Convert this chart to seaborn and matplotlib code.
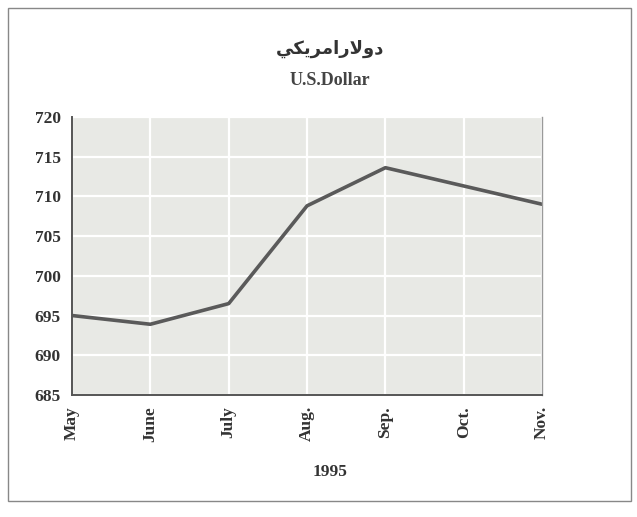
import matplotlib
matplotlib.use("Agg")
import matplotlib.pyplot as plt
import seaborn as sns
import pandas as pd
from matplotlib.patches import Rectangle

# Values (U.S. Dollar, 1995)
months = ["May", "June", "July", "Aug.", "Sep.", "Oct.", "Nov."]
values = [695.0, 693.9, 696.5, 708.8, 713.6, 711.3, 709.0]
y_ticks = [685, 690, 695, 700, 705, 710, 715, 720]

title_ar = "دولارامريكي"
# matplotlib does no Arabic shaping, so the title is drawn from its
# presentation forms in visual (left-to-right) order
title_ar_shaped = "\ufef2\ufedc\ufef3\ufeae\ufee3\ufe8d\ufead\ufefb\ufeed\ufea9"
title_en = "U.S.Dollar"
x_title = "1995"


def main():
    df = pd.DataFrame({"Month": months, "Value": values})
    df["Pos"] = range(len(months))

    sns.set_theme(style="whitegrid")
    plt.rcParams["font.family"] = ["Liberation Serif", "DejaVu Sans"]

    fig = plt.figure(figsize=(6.37, 5.17), dpi=100)
    ax = fig.add_axes([0.113, 0.236, 0.738, 0.538])
    ax.set_facecolor("#e8e9e5")

    sns.lineplot(data=df, x="Pos", y="Value", color="#5a5a5a", linewidth=2.6, ax=ax)

    ax.set_xlim(0, len(months) - 1)
    ax.set_ylim(685, 720)
    ax.set_xticks(df["Pos"])
    ax.set_xticklabels(months, rotation=90, fontsize=12.5, fontweight="bold", color="#333333")
    ax.set_yticks(y_ticks)
    ax.set_yticklabels([str(t) for t in y_ticks], fontsize=12.5, fontweight="bold", color="#333333")
    ax.set_xlabel("")
    ax.set_ylabel("")

    ax.grid(True, color="white", linewidth=1.6)
    for side in ["left", "bottom"]:
        ax.spines[side].set_color("#555555")
        ax.spines[side].set_linewidth(1.4)
    ax.spines["right"].set_color("#9a9a9a")
    ax.spines["right"].set_linewidth(1.0)
    ax.spines["top"].set_visible(False)
    ax.tick_params(axis="x", direction="inout", length=8, width=1.2, color="#555555", pad=4)
    ax.tick_params(axis="y", direction="out", length=5, width=1.2, color="#555555", pad=3)

    fig.text(0.518, 0.905, title_ar_shaped, ha="center", va="center",
             fontsize=13, fontweight="bold", color="#333333",
             family=["DejaVu Sans"])
    fig.text(0.518, 0.845, title_en, ha="center", va="center",
             fontsize=13, fontweight="bold", color="#444444")
    fig.text(0.518, 0.088, x_title, ha="center", va="center",
             fontsize=12.5, fontweight="bold", color="#333333")

    fig.patches.append(Rectangle((0.012, 0.03), 0.978, 0.955, transform=fig.transFigure,
                                 fill=False, edgecolor="#888888", linewidth=1.0))

    fig.savefig("out.png", dpi=100, facecolor="white")


if __name__ == "__main__":
    main()
